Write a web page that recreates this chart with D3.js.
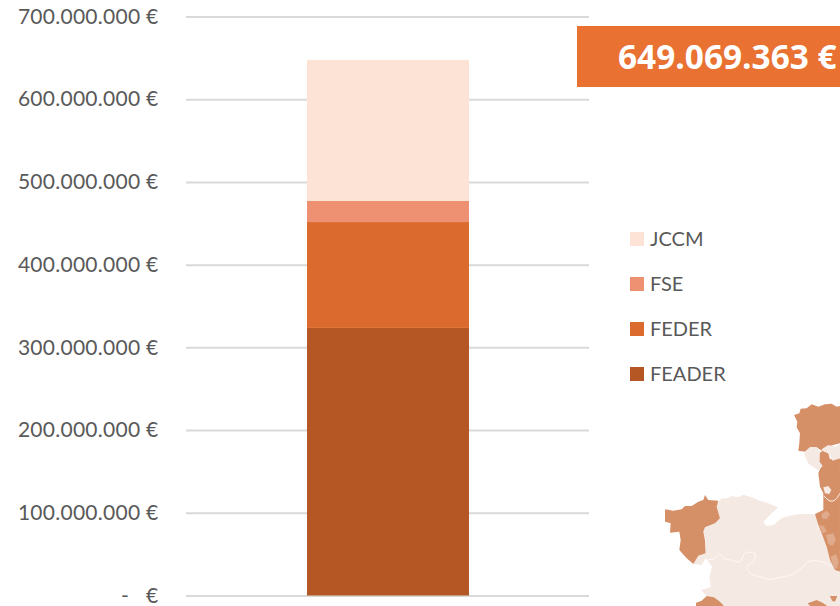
<!DOCTYPE html>
<html><head><meta charset="utf-8">
<style>html,body{margin:0;padding:0;background:#fff;overflow:hidden}svg{display:block}</style>
<script src="https://cdn.jsdelivr.net/npm/d3@7"></script></head>
<body><svg id="c" width="840" height="606"></svg>
<script>
const seriesNames = ["FEADER","FEDER","FSE","JCCM"];
const seriesValues = [323500000,128000000,25500000,170500000];
const seriesColors = ["#b55724","#da6a2d","#ee9172","#fce3d6"];
const legendOrder = ["JCCM","FSE","FEDER","FEADER"];
const tickValues = [0,100000000,200000000,300000000,400000000,500000000,600000000,700000000];
const tickLabels = ["-   €","100.000.000 €","200.000.000 €","300.000.000 €","400.000.000 €","500.000.000 €","600.000.000 €","700.000.000 €"];
const totalLabel = "649.069.363 €";
const category = ["Total"];

// Decorative map fragment, outlines traced in crop coordinates
const mapLight = [
 [[232,340],[245,325],[262,325],[275,318],[295,322],[310,314],[335,322],[360,332],[385,340],[415,352],[395,370],[370,395],[378,408],[400,405],[425,385],[445,378],[480,372],[515,372],[535,378],[533,405],[545,430],[560,470],[570,510],[585,540],[600,548],[600,648],[562,648],[548,638],[530,630],[503,640],[510,648],[252,648],[240,635],[222,622],[200,618],[183,600],[212,592],[208,560],[216,530],[197,505],[185,525],[160,522],[175,497],[197,490],[197,450],[190,425],[195,412],[225,400],[240,385],[230,350]]
];
const mapDark = [
 [[462,75],[478,70],[482,56],[500,55],[515,43],[535,50],[555,43],[575,41],[590,50],[600,48],[600,160],[580,165],[560,172],[545,182],[530,172],[510,172],[495,185],[475,182],[478,160],[480,130],[470,112],[472,95]],
 [[538,190],[548,182],[565,190],[570,208],[600,205],[600,545],[585,540],[570,510],[560,470],[545,430],[535,405],[525,372],[550,360],[550,310],[540,290],[535,250],[545,225],[538,215]],
 [[75,358],[100,362],[125,358],[135,348],[155,348],[175,335],[190,330],[195,315],[205,330],[235,332],[230,350],[240,385],[225,400],[195,412],[190,425],[195,450],[197,490],[175,497],[160,522],[140,505],[118,480],[122,450],[118,425],[90,428],[92,400],[75,395]],
 [[168,638],[185,632],[200,618],[222,622],[240,635],[252,648],[168,648]],
 [[503,640],[530,630],[548,638],[562,648],[510,648]],
 [[570,618],[592,618],[585,635],[576,632]]
];
const mapIslands = [
 [[492,190],[510,172],[530,172],[540,185],[538,215],[548,228],[535,242],[520,230],[505,222]],
 [[545,178],[565,165],[585,170],[600,162],[600,205],[578,212],[565,190],[548,182]],
 [[550,292],[565,288],[574,300],[568,312],[555,310]]
];
const mapMid = [
 [[545,372],[560,362],[570,372],[560,388],[546,385]],
 [[538,405],[552,408],[560,425],[548,430]],
 [[558,435],[580,430],[588,450],[578,468],[565,462]],
 [[572,500],[588,492],[596,515],[590,538],[580,530]]
];
const mapLines = [
 [[200,510],[225,505],[240,492],[250,505],[270,510],[300,515],[315,490],[345,490],[340,515],[320,530],[330,550],[360,560],[385,568],[420,562],[460,552],[490,530],[505,515],[545,515],[575,530]],
 [[552,318],[570,333],[585,330],[600,310]]
];

const svg = d3.select("#c");
const defs = svg.append("defs");
defs.append("filter").attr("id","soft").append("feGaussianBlur").attr("stdDeviation",1.4);
const y = d3.scaleLinear().domain([0,700000000]).range([595.5,16.5]);
const x = d3.scaleBand().domain(category).range([186,590]).paddingInner(0).paddingOuter(0.3);

// Map
const lineGen = d3.line().curve(d3.curveLinearClosed);
const openLine = d3.line().curve(d3.curveCatmullRom);
const map = svg.append("g").attr("transform","translate(640,390) scale(0.3333)").attr("filter","url(#soft)");
const draw = (cls,data,color)=>map.selectAll("path."+cls).data(data).join("path").attr("class",cls).attr("d",lineGen).attr("fill",color);
draw("l",mapLight,"#f5e9e3");
draw("d",mapDark,"#d69068");
draw("i",mapIslands,"#f5e9e3");
draw("m",mapMid,"#e0ab8c");
map.selectAll("path.o").data(mapLines).join("path").attr("class","o").attr("d",openLine).attr("fill","none").attr("stroke","#fdf8f5").attr("stroke-width",3);

// Axis and gridlines
const axis = d3.axisLeft(y).tickValues(tickValues)
  .tickSize(-403).tickPadding(27.5)
  .tickFormat((d,i)=>tickLabels[i]);
const gAxis = svg.append("g").attr("transform","translate(186,0)").call(axis);
gAxis.select(".domain").remove();
gAxis.selectAll(".tick line").attr("stroke","#d9d9d9").attr("stroke-width",2);
gAxis.selectAll(".tick text").attr("fill","#595959")
  .style("font-family","Lato, Carlito, sans-serif").style("font-size","21px")
  .style("letter-spacing","0.27px").style("white-space","pre");

// Stacked bar
const stackData = [Object.fromEntries(seriesNames.map((n,i)=>[n,seriesValues[i]]))];
const stacked = d3.stack().keys(seriesNames)(stackData);
const bw = 162, bx = x(category[0]) + (x.bandwidth()-bw)/2;
svg.append("g").selectAll("rect").data(stacked).join("rect")
  .attr("x",bx).attr("width",bw)
  .attr("y",d=>y(d[0][1])).attr("height",d=>y(d[0][0])-y(d[0][1]))
  .attr("fill",(d,i)=>seriesColors[i]);

// Badge
svg.append("rect").attr("x",577).attr("y",26).attr("width",263).attr("height",61).attr("fill","#e97132");
svg.append("text").attr("x",618).attr("y",69).attr("fill","#fff")
  .style("font-family","'Open Sans', sans-serif").style("font-weight",700).style("font-size","33.4px")
  .text(totalLabel);

// Legend
const lg = svg.append("g").selectAll("g").data(legendOrder).join("g")
  .attr("transform",(d,i)=>`translate(630,${239+i*45})`);
lg.append("rect").attr("x",0).attr("y",-7).attr("width",14).attr("height",14)
  .attr("fill",d=>seriesColors[seriesNames.indexOf(d)]);
lg.append("text").attr("x",20).attr("y",7).attr("fill","#595959")
  .style("font-family","Lato, Carlito, sans-serif").style("font-size","20px").text(d=>d);
</script></body></html>
